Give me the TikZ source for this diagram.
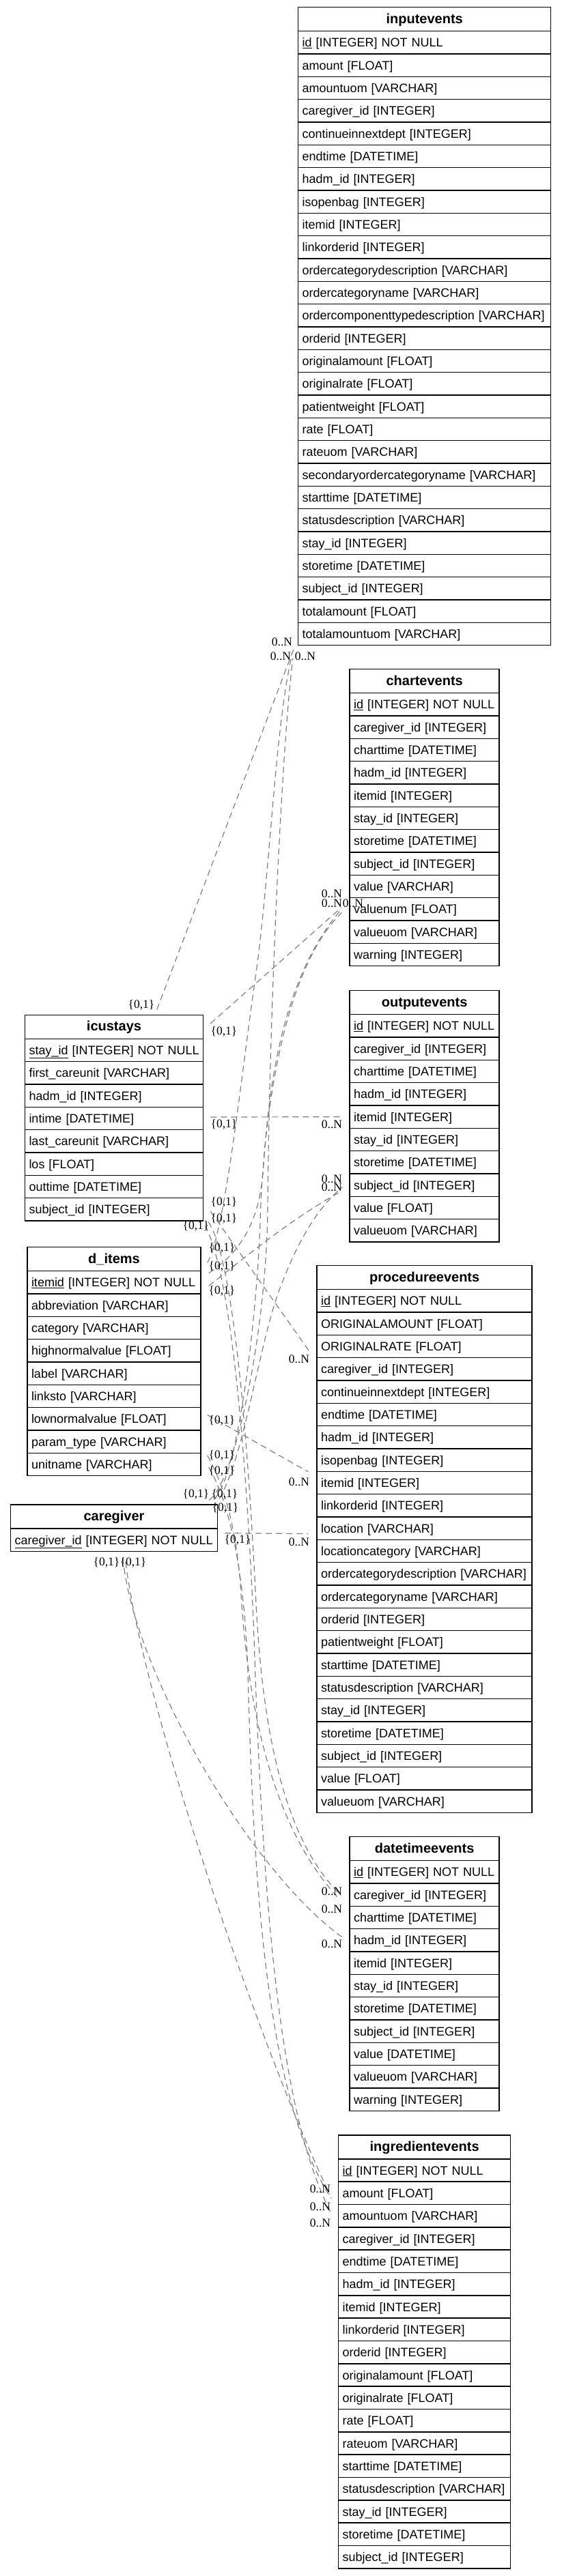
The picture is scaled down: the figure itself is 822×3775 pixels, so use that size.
\documentclass[tikz,border=0pt]{standalone}
\usepackage{fontspec}
\setmainfont{Liberation Sans}
\newfontfamily\cardfont{Liberation Serif}
\usepackage{tikz}
\usetikzlibrary{positioning, calc}
\tikzstyle{tblhead} = [rectangle, draw=black, line width=1.5pt, minimum height=35pt, inner xsep=6pt, inner ysep=0pt, text height=16pt, text depth=4pt, align=center, font=\fontsize{20}{22}\selectfont\bfseries]
\tikzstyle{tblrow} = [rectangle, draw=black, line width=1.5pt, minimum height=33.333pt, inner xsep=6pt, inner ysep=0pt, text height=16pt, text depth=3pt, align=left, font=\fontsize{18}{20}\selectfont, execute at begin node={\hbox\bgroup}, execute at end node={\egroup}]
\tikzstyle{rel} = [draw=gray, dash pattern=on 9pt off 6pt, line width=1.2pt]
\tikzstyle{card} = [inner sep=0pt, font=\cardfont\fontsize{17.5}{18}\selectfont]

\begin{document}
\begin{tikzpicture}[x=1pt, y=-1pt, node distance=33.333pt, on grid]
\useasboundingbox (0,0) rectangle (822,3775);

\begin{scope}[text width=358pt]
\node[tblhead] (in_0) at (621.7,28.2) {inputevents};
\node[tblrow, node distance=34.17pt, below of=in_0] (in_1) {\underline{id} [INTEGER] NOT NULL};
\node[tblrow, below of=in_1] (in_2) {amount [FLOAT]};
\node[tblrow, below of=in_2] (in_3) {amountuom [VARCHAR]};
\node[tblrow, below of=in_3] (in_4) {caregiver\_id [INTEGER]};
\node[tblrow, below of=in_4] (in_5) {continueinnextdept [INTEGER]};
\node[tblrow, below of=in_5] (in_6) {endtime [DATETIME]};
\node[tblrow, below of=in_6] (in_7) {hadm\_id [INTEGER]};
\node[tblrow, below of=in_7] (in_8) {isopenbag [INTEGER]};
\node[tblrow, below of=in_8] (in_9) {itemid [INTEGER]};
\node[tblrow, below of=in_9] (in_10) {linkorderid [INTEGER]};
\node[tblrow, below of=in_10] (in_11) {ordercategorydescription [VARCHAR]};
\node[tblrow, below of=in_11] (in_12) {ordercategoryname [VARCHAR]};
\node[tblrow, below of=in_12] (in_13) {ordercomponenttypedescription [VARCHAR]};
\node[tblrow, below of=in_13] (in_14) {orderid [INTEGER]};
\node[tblrow, below of=in_14] (in_15) {originalamount [FLOAT]};
\node[tblrow, below of=in_15] (in_16) {originalrate [FLOAT]};
\node[tblrow, below of=in_16] (in_17) {patientweight [FLOAT]};
\node[tblrow, below of=in_17] (in_18) {rate [FLOAT]};
\node[tblrow, below of=in_18] (in_19) {rateuom [VARCHAR]};
\node[tblrow, below of=in_19] (in_20) {secondaryordercategoryname [VARCHAR]};
\node[tblrow, below of=in_20] (in_21) {starttime [DATETIME]};
\node[tblrow, below of=in_21] (in_22) {statusdescription [VARCHAR]};
\node[tblrow, below of=in_22] (in_23) {stay\_id [INTEGER]};
\node[tblrow, below of=in_23] (in_24) {storetime [DATETIME]};
\node[tblrow, below of=in_24] (in_25) {subject\_id [INTEGER]};
\node[tblrow, below of=in_25] (in_26) {totalamount [FLOAT]};
\node[tblrow, below of=in_26] (in_27) {totalamountuom [VARCHAR]};
\end{scope}

\begin{scope}[text width=207pt]
\node[tblhead] (ch_0) at (621.7,998.2) {chartevents};
\node[tblrow, node distance=34.17pt, below of=ch_0] (ch_1) {\underline{id} [INTEGER] NOT NULL};
\node[tblrow, below of=ch_1] (ch_2) {caregiver\_id [INTEGER]};
\node[tblrow, below of=ch_2] (ch_3) {charttime [DATETIME]};
\node[tblrow, below of=ch_3] (ch_4) {hadm\_id [INTEGER]};
\node[tblrow, below of=ch_4] (ch_5) {itemid [INTEGER]};
\node[tblrow, below of=ch_5] (ch_6) {stay\_id [INTEGER]};
\node[tblrow, below of=ch_6] (ch_7) {storetime [DATETIME]};
\node[tblrow, below of=ch_7] (ch_8) {subject\_id [INTEGER]};
\node[tblrow, below of=ch_8] (ch_9) {value [VARCHAR]};
\node[tblrow, below of=ch_9] (ch_10) {valuenum [FLOAT]};
\node[tblrow, below of=ch_10] (ch_11) {valueuom [VARCHAR]};
\node[tblrow, below of=ch_11] (ch_12) {warning [INTEGER]};

\node[tblhead] (ou_0) at (621.7,1469.2) {outputevents};
\node[tblrow, node distance=34.17pt, below of=ou_0] (ou_1) {\underline{id} [INTEGER] NOT NULL};
\node[tblrow, below of=ou_1] (ou_2) {caregiver\_id [INTEGER]};
\node[tblrow, below of=ou_2] (ou_3) {charttime [DATETIME]};
\node[tblrow, below of=ou_3] (ou_4) {hadm\_id [INTEGER]};
\node[tblrow, below of=ou_4] (ou_5) {itemid [INTEGER]};
\node[tblrow, below of=ou_5] (ou_6) {stay\_id [INTEGER]};
\node[tblrow, below of=ou_6] (ou_7) {storetime [DATETIME]};
\node[tblrow, below of=ou_7] (ou_8) {subject\_id [INTEGER]};
\node[tblrow, below of=ou_8] (ou_9) {value [FLOAT]};
\node[tblrow, below of=ou_9] (ou_10) {valueuom [VARCHAR]};

\node[tblhead] (dt_0) at (621.7,2709.2) {datetimeevents};
\node[tblrow, node distance=34.17pt, below of=dt_0] (dt_1) {\underline{id} [INTEGER] NOT NULL};
\node[tblrow, below of=dt_1] (dt_2) {caregiver\_id [INTEGER]};
\node[tblrow, below of=dt_2] (dt_3) {charttime [DATETIME]};
\node[tblrow, below of=dt_3] (dt_4) {hadm\_id [INTEGER]};
\node[tblrow, below of=dt_4] (dt_5) {itemid [INTEGER]};
\node[tblrow, below of=dt_5] (dt_6) {stay\_id [INTEGER]};
\node[tblrow, below of=dt_6] (dt_7) {storetime [DATETIME]};
\node[tblrow, below of=dt_7] (dt_8) {subject\_id [INTEGER]};
\node[tblrow, below of=dt_8] (dt_9) {value [DATETIME]};
\node[tblrow, below of=dt_9] (dt_10) {valueuom [VARCHAR]};
\node[tblrow, below of=dt_10] (dt_11) {warning [INTEGER]};
\end{scope}

\begin{scope}[text width=303pt]
\node[tblhead] (pr_0) at (621.7,1872.1) {procedureevents};
\node[tblrow, node distance=34.17pt, below of=pr_0] (pr_1) {\underline{id} [INTEGER] NOT NULL};
\node[tblrow, below of=pr_1] (pr_2) {ORIGINALAMOUNT [FLOAT]};
\node[tblrow, below of=pr_2] (pr_3) {ORIGINALRATE [FLOAT]};
\node[tblrow, below of=pr_3] (pr_4) {caregiver\_id [INTEGER]};
\node[tblrow, below of=pr_4] (pr_5) {continueinnextdept [INTEGER]};
\node[tblrow, below of=pr_5] (pr_6) {endtime [DATETIME]};
\node[tblrow, below of=pr_6] (pr_7) {hadm\_id [INTEGER]};
\node[tblrow, below of=pr_7] (pr_8) {isopenbag [INTEGER]};
\node[tblrow, below of=pr_8] (pr_9) {itemid [INTEGER]};
\node[tblrow, below of=pr_9] (pr_10) {linkorderid [INTEGER]};
\node[tblrow, below of=pr_10] (pr_11) {location [VARCHAR]};
\node[tblrow, below of=pr_11] (pr_12) {locationcategory [VARCHAR]};
\node[tblrow, below of=pr_12] (pr_13) {ordercategorydescription [VARCHAR]};
\node[tblrow, below of=pr_13] (pr_14) {ordercategoryname [VARCHAR]};
\node[tblrow, below of=pr_14] (pr_15) {orderid [INTEGER]};
\node[tblrow, below of=pr_15] (pr_16) {patientweight [FLOAT]};
\node[tblrow, below of=pr_16] (pr_17) {starttime [DATETIME]};
\node[tblrow, below of=pr_17] (pr_18) {statusdescription [VARCHAR]};
\node[tblrow, below of=pr_18] (pr_19) {stay\_id [INTEGER]};
\node[tblrow, below of=pr_19] (pr_20) {storetime [DATETIME]};
\node[tblrow, below of=pr_20] (pr_21) {subject\_id [INTEGER]};
\node[tblrow, below of=pr_21] (pr_22) {value [FLOAT]};
\node[tblrow, below of=pr_22] (pr_23) {valueuom [VARCHAR]};
\end{scope}

\begin{scope}[text width=240pt]
\node[tblhead] (ig_0) at (621.7,3146.3) {ingredientevents};
\node[tblrow, node distance=34.17pt, below of=ig_0] (ig_1) {\underline{id} [INTEGER] NOT NULL};
\node[tblrow, below of=ig_1] (ig_2) {amount [FLOAT]};
\node[tblrow, below of=ig_2] (ig_3) {amountuom [VARCHAR]};
\node[tblrow, below of=ig_3] (ig_4) {caregiver\_id [INTEGER]};
\node[tblrow, below of=ig_4] (ig_5) {endtime [DATETIME]};
\node[tblrow, below of=ig_5] (ig_6) {hadm\_id [INTEGER]};
\node[tblrow, below of=ig_6] (ig_7) {itemid [INTEGER]};
\node[tblrow, below of=ig_7] (ig_8) {linkorderid [INTEGER]};
\node[tblrow, below of=ig_8] (ig_9) {orderid [INTEGER]};
\node[tblrow, below of=ig_9] (ig_10) {originalamount [FLOAT]};
\node[tblrow, below of=ig_10] (ig_11) {originalrate [FLOAT]};
\node[tblrow, below of=ig_11] (ig_12) {rate [FLOAT]};
\node[tblrow, below of=ig_12] (ig_13) {rateuom [VARCHAR]};
\node[tblrow, below of=ig_13] (ig_14) {starttime [DATETIME]};
\node[tblrow, below of=ig_14] (ig_15) {statusdescription [VARCHAR]};
\node[tblrow, below of=ig_15] (ig_16) {stay\_id [INTEGER]};
\node[tblrow, below of=ig_16] (ig_17) {storetime [DATETIME]};
\node[tblrow, below of=ig_17] (ig_18) {subject\_id [INTEGER]};
\end{scope}

\begin{scope}[text width=249pt]
\node[tblhead] (ic_0) at (167,1504.8) {icustays};
\node[tblrow, node distance=34.17pt, below of=ic_0] (ic_1) {\underline{stay\_id} [INTEGER] NOT NULL};
\node[tblrow, below of=ic_1] (ic_2) {first\_careunit [VARCHAR]};
\node[tblrow, below of=ic_2] (ic_3) {hadm\_id [INTEGER]};
\node[tblrow, below of=ic_3] (ic_4) {intime [DATETIME]};
\node[tblrow, below of=ic_4] (ic_5) {last\_careunit [VARCHAR]};
\node[tblrow, below of=ic_5] (ic_6) {los [FLOAT]};
\node[tblrow, below of=ic_6] (ic_7) {outtime [DATETIME]};
\node[tblrow, below of=ic_7] (ic_8) {subject\_id [INTEGER]};
\end{scope}

\begin{scope}[text width=242pt]
\node[tblhead] (di_0) at (167,1845.2) {d\_items};
\node[tblrow, node distance=34.17pt, below of=di_0] (di_1) {\underline{itemid} [INTEGER] NOT NULL};
\node[tblrow, below of=di_1] (di_2) {abbreviation [VARCHAR]};
\node[tblrow, below of=di_2] (di_3) {category [VARCHAR]};
\node[tblrow, below of=di_3] (di_4) {highnormalvalue [FLOAT]};
\node[tblrow, below of=di_4] (di_5) {label [VARCHAR]};
\node[tblrow, below of=di_5] (di_6) {linksto [VARCHAR]};
\node[tblrow, below of=di_6] (di_7) {lownormalvalue [FLOAT]};
\node[tblrow, below of=di_7] (di_8) {param\_type [VARCHAR]};
\node[tblrow, below of=di_8] (di_9) {unitname [VARCHAR]};
\end{scope}

\begin{scope}[text width=291pt]
\node[tblhead] (cg_0) at (167,2222.5) {caregiver};
\node[tblrow, node distance=34.17pt, below of=cg_0] (cg_1) {\underline{caregiver\_id} [INTEGER] NOT NULL};
\end{scope}

\path[rel]
  ($(ic_0.north east)+(-68.5,-7)$) edge ($(in_27.south west)+(-6,5)$)
  ($(ic_0.east)+(10,-5)$) edge ($(ch_10.west)+(-12,-2)$)
  ($(ic_4.east)+(10,-2)$) edge ($(ou_5.west)+(-10,0)$)
  ($(ic_8.east)+(10,3)$) edge ($(pr_3.west)+(-10,8)$)
  ($(di_7.east)+(9,-6)$) edge ($(pr_9.west)+(-12,-16)$)
  ($(cg_1.east)+(10,-10)$) edge ($(pr_11.west)+(-12,8)$);
\draw[rel] ($(ic_8.south east)+(7,1)$) .. controls (345,1850) and (365,2150) .. (375,2350) .. controls (385,2550) and (420,2700) .. ($(dt_2.west)+(-12,1)$);
\draw[rel] ($(ic_8.south east)+(2,6)$) .. controls (340,1870) and (362,2150) .. (372,2400) .. controls (385,2800) and (410,3100) .. ($(ig_3.west)+(-10,-4)$);
\draw[rel] ($(di_0.east)+(9,5)$) .. controls (330,1805) and (354,1570) .. (373,1440) .. controls (395,1290) and (402,1072) .. ($(in_27.south west)+(-9,16)$);
\draw[rel] ($(di_1.east)+(11,-14)$) .. controls (345,1840) and (378,1800) .. (385,1720) .. controls (393,1600) and (410,1440) .. ($(ch_10.west)+(-14,3)$);
\draw[rel] ($(di_1.east)+(11,5)$) .. controls (350,1850) and (420,1790) .. ($(ou_8.west)+(-15,11)$);
\draw[rel] ($(di_9.east)+(9,-13)$) .. controls (330,2180) and (345,2240) .. (352,2320) .. controls (365,2560) and (420,2700) .. ($(dt_2.west)+(-15,6)$);
\draw[rel] ($(di_9.east)+(11,4)$) .. controls (335,2200) and (358,2300) .. (363,2450) .. controls (372,2800) and (395,3080) .. ($(ig_2.west)+(-10,8)$);
\draw[rel] ($(cg_0.north east)+(-13,-6)$) .. controls (345,2170) and (390,1950) .. (392,1773) .. controls (394,1500) and (412,1100) .. ($(in_27.south west)+(-7,18)$);
\draw[rel] ($(cg_0.north east)+(-6,-7)$) .. controls (352,2160) and (378,1900) .. (381,1790) .. controls (384,1680) and (405,1430) .. ($(ch_10.west)+(-11,5)$);
\draw[rel] ($(cg_0.north east)+(2,-8)$) .. controls (360,2130) and (380,1960) .. (413,1880) .. controls (440,1810) and (470,1765) .. ($(ou_8.west)+(-10,3)$);
\draw[rel] ($(cg_1.south)+(13,9)$) .. controls (195,2450) and (368,2743) .. ($(dt_4.west)+(-11,-5)$);
\draw[rel] ($(cg_1.south)+(17,15)$) .. controls (210,2500) and (380,3000) .. ($(ig_2.west)+(-12,2)$);

\node[card] (n_in1) at (413,941) {0..N};
\node[card] (n_in2) at (411,962) {0..N};
\node[card] (n_in3) at (447,962) {0..N};
\node[card] (n_ch1) at (486,1310) {0..N};
\node[card] (n_ch2) at (486,1324) {0..N};
\node[card] (n_ch3) at (517,1324) {0..N};
\node[card] (n_ou1) at (486,1648) {0..N};
\node[card] (n_ou2) at (486,1728) {0..N};
\node[card] (n_ou3) at (486,1740) {0..N};
\node[card] (n_pr1) at (438,1992) {0..N};
\node[card] (n_pr2) at (438,2172) {0..N};
\node[card] (n_pr3) at (438,2260) {0..N};
\node[card] (n_dt1) at (486,2772) {0..N};
\node[card] (n_dt2) at (486,2798) {0..N};
\node[card] (n_dt3) at (486,2849) {0..N};
\node[card] (n_ig1) at (469,3208) {0..N};
\node[card] (n_ig2) at (469,3234) {0..N};
\node[card] (n_ig3) at (469,3258) {0..N};
\node[card] (o_ic1) at (207,1473) {\{0,1\}};
\node[card] (o_ic2) at (328,1512) {\{0,1\}};
\node[card] (o_ic3) at (328,1648) {\{0,1\}};
\node[card] (o_ic4) at (328,1762) {\{0,1\}};
\node[card] (o_ic5) at (328,1786) {\{0,1\}};
\node[card] (o_ic6) at (287,1797) {\{0,1\}};
\node[card] (o_di1) at (325,1829) {\{0,1\}};
\node[card] (o_di2) at (325,1856) {\{0,1\}};
\node[card] (o_di3) at (325,1892) {\{0,1\}};
\node[card] (o_di4) at (325,2082) {\{0,1\}};
\node[card] (o_di5) at (325,2133) {\{0,1\}};
\node[card] (o_di6) at (325,2156) {\{0,1\}};
\node[card] (o_cg1) at (287,2190) {\{0,1\}};
\node[card] (o_cg2) at (329,2190) {\{0,1\}};
\node[card] (o_cg3) at (330,2210) {\{0,1\}};
\node[card] (o_cg4) at (348,2257) {\{0,1\}};
\node[card] (o_cg5) at (156,2290) {\{0,1\}};
\node[card] (o_cg6) at (195,2290) {\{0,1\}};
\end{tikzpicture}
\end{document}
